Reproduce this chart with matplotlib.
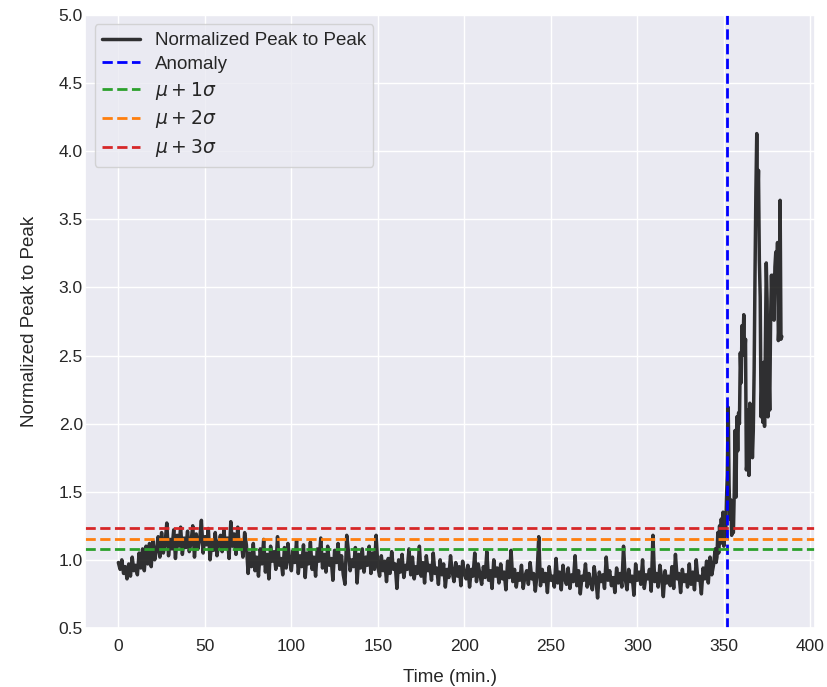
import numpy as np
import matplotlib
matplotlib.use("Agg")
import matplotlib.pyplot as plt
import seaborn as sns

sns.set_theme(style="darkgrid")
plt.rcParams["font.family"] = ["Liberation Sans", "DejaVu Sans"]

# Normalized peak-to-peak, one sample per minute (0 .. 344 min)
p2p_baseline = [
    0.98, 0.93, 1.00, 0.90, 0.95, 0.86, 0.97, 0.88, 1.02, 0.92,
    0.96, 0.89, 1.05, 0.94, 1.08, 0.92, 1.10, 0.97, 1.12, 0.95,
    1.14, 1.00, 1.07, 1.17, 1.02, 1.20, 1.05, 1.12, 1.27, 1.03,
    1.15, 1.08, 1.22, 1.01, 1.18, 1.10, 1.24, 1.04, 1.16, 1.09,
    1.21, 1.06, 1.13, 1.25, 1.02, 1.19, 1.08, 1.15, 1.29, 1.05,
    1.17, 1.11, 1.23, 1.00, 1.14, 1.07, 1.20, 1.03, 1.12, 1.18,
    1.06, 1.22, 1.09, 1.16, 1.01, 1.28, 1.10, 1.19, 1.04, 1.24,
    1.08, 1.14, 1.02, 1.20, 1.11, 0.90, 1.05, 0.95, 1.12, 0.92,
    1.02, 0.88, 1.08, 0.97, 1.15, 0.91, 1.04, 0.86, 1.10, 0.99,
    1.06, 0.93, 1.17, 0.96, 1.01, 0.89, 1.09, 0.94, 1.12, 1.00,
    0.92, 1.07, 0.98, 1.14, 0.90, 1.03, 0.95, 1.11, 0.87, 1.05,
    0.97, 1.13, 0.93, 1.02, 0.88, 1.08, 0.99, 1.16, 0.94, 1.04,
    0.91, 1.10, 0.96, 1.01, 0.85, 1.07, 0.98, 1.12, 0.93, 1.03,
    0.89, 0.82, 1.18, 1.06, 0.92, 1.00, 0.95, 1.09, 0.83, 1.04,
    0.94, 1.08, 0.91, 1.02, 0.96, 1.10, 0.90, 1.05, 0.93, 1.18,
    0.95, 0.88, 1.03, 0.92, 0.99, 0.84, 1.01, 0.90, 1.06, 0.93,
    0.97, 0.79, 1.00, 0.91, 1.04, 0.87, 0.96, 0.93, 1.08, 0.89,
    1.02, 0.86, 0.95, 0.90, 1.10, 0.88, 0.98, 0.83, 1.03, 0.92,
    0.96, 0.85, 1.05, 0.90, 0.94, 0.82, 1.00, 0.89, 0.97, 0.80,
    0.93, 0.87, 1.03, 0.91, 0.84, 0.98, 0.88, 0.95, 0.81, 0.99,
    0.90, 0.86, 0.96, 0.80, 0.93, 0.88, 1.05, 0.84, 0.97, 0.89,
    0.82, 0.95, 0.87, 1.06, 0.85, 0.92, 0.79, 1.00, 0.88, 0.94,
    0.83, 0.97, 0.86, 0.91, 0.78, 0.99, 0.87, 1.07, 0.84, 0.93,
    0.80, 0.90, 0.85, 0.96, 0.79, 0.88, 0.92, 0.82, 0.98, 0.86,
    0.90, 0.77, 0.89, 1.17, 0.81, 0.93, 0.84, 0.90, 0.76, 0.95,
    0.85, 0.88, 0.80, 1.01, 0.83, 0.91, 0.78, 0.96, 0.86, 0.82,
    0.94, 0.79, 0.89, 0.84, 1.03, 0.81, 0.92, 0.75, 0.88, 0.85,
    0.97, 0.80, 0.90, 0.83, 0.78, 0.95, 0.86, 0.72, 0.91, 0.84,
    0.89, 0.79, 1.02, 0.85, 0.92, 0.81, 0.87, 0.76, 0.94, 0.83,
    0.90, 0.80, 1.10, 0.86, 0.78, 0.93, 0.84, 0.88, 0.74, 0.97,
    0.85, 0.91, 0.82, 1.00, 0.79, 0.89, 0.86, 0.93, 0.77, 1.18,
    0.84, 0.90, 0.80, 0.96, 0.87, 0.73, 0.92, 0.83, 0.88, 0.81,
    0.95, 0.79, 1.04, 0.86, 0.90, 0.76, 0.93, 0.84, 0.89, 0.80,
    0.97, 0.82, 0.91, 0.78, 1.00, 0.85, 0.88, 0.75, 0.94, 0.86,
    0.99, 0.83, 1.02, 0.89, 0.96,
]
t_baseline = list(range(len(p2p_baseline)))

# Final part of the run, sampled every half minute
t_tail = [
    345.0, 345.5, 346.0, 346.5, 347.0, 347.5, 348.0, 348.5, 349.0, 349.5,
    350.0, 350.5, 351.0, 351.5, 352.0, 352.5, 353.0, 353.5, 354.0, 354.5,
    355.0, 355.5, 356.0, 356.5, 357.0, 357.5, 358.0, 358.5, 359.0, 359.5,
    360.0, 360.5, 361.0, 361.5, 362.0, 362.5, 363.0, 363.5, 364.0, 364.5,
    365.0, 365.5, 366.0, 366.5, 367.0, 367.5, 368.0, 368.5, 369.0, 369.5,
    370.0, 370.5, 371.0, 371.5, 372.0, 372.5, 373.0, 373.5, 374.0, 374.5,
    375.0, 375.5, 376.0, 376.5, 377.0, 377.5, 378.0, 378.5, 379.0, 379.5,
    380.0, 380.5, 381.0, 381.5, 382.0, 382.5, 383.0, 383.5,
]
p2p_tail = [
    1.08, 0.98, 1.02, 1.20, 1.05, 1.25, 1.12, 1.30, 1.16, 1.35,
    1.10, 1.28, 1.18, 1.45, 1.62, 2.12, 1.55, 1.30, 1.44, 1.18,
    1.22, 1.20, 1.50, 1.95, 1.46, 2.05, 1.80, 2.08, 2.00, 2.52,
    2.30, 2.72, 2.55, 2.80, 2.50, 2.62, 1.66, 1.72, 2.10, 1.62,
    2.15, 1.78, 2.05, 1.75, 1.95, 2.40, 3.10, 3.70, 4.13, 3.60,
    3.86, 3.20, 2.93, 2.05, 2.30, 2.01, 2.45, 1.98, 2.60, 3.18,
    2.90, 2.05, 2.40, 2.10, 2.76, 3.09, 2.80, 3.09, 2.76, 3.15,
    3.26, 3.05, 3.33, 2.61, 2.75, 3.64, 2.62, 2.64,
]

time_min = np.array(t_baseline + t_tail, dtype=float)
p2p = np.array(p2p_baseline + p2p_tail)

anomaly_time = 352.0
mu = 1.0
sigma = 0.077
sigma_levels = [1, 2, 3]
sigma_colors = ["tab:green", "tab:orange", "tab:red"]

fig, ax = plt.subplots(figsize=(8.27, 6.87), dpi=100)
fig.subplots_adjust(left=0.103, right=0.9855, top=0.978, bottom=0.086)

ax.plot(time_min, p2p, color="black", alpha=0.8, linewidth=2.5,
        label="Normalized Peak to Peak")
ax.axvline(anomaly_time, color="blue", linestyle="--", linewidth=2,
           label="Anomaly")
for k, c in zip(sigma_levels, sigma_colors):
    ax.axhline(mu + k * sigma, color=c, linestyle="--", linewidth=2,
               label=rf"$\mu + {k}\sigma$")

ax.set_ylim(0.5, 5.0)
ax.set_yticks(np.arange(0.5, 5.01, 0.5))
ax.set_xlabel("Time (min.)", fontsize=13.5, labelpad=10.5)
ax.set_ylabel("Normalized Peak to Peak", fontsize=13.5, labelpad=15)
ax.tick_params(axis="x", labelsize=12.5, length=0, pad=8)
ax.tick_params(axis="y", labelsize=12.5, length=0, pad=1.7)
ax.legend(loc="upper left", fontsize=13.5, labelspacing=0.36)

fig.savefig("out.png", dpi=100)
